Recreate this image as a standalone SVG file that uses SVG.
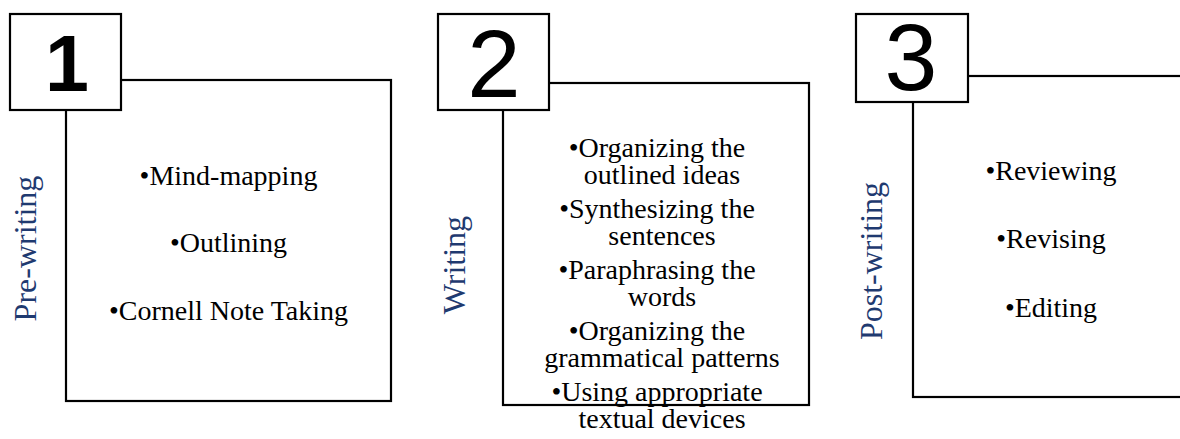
<svg xmlns="http://www.w3.org/2000/svg" width="1180" height="439" viewBox="0 0 1180 439">
<style>
.box{fill:#fff;stroke:#000;stroke-width:2.2}
.num{font-family:"Liberation Sans",Arial,sans-serif;fill:#000;text-anchor:middle}
.side{font-family:"Liberation Serif","Times New Roman",serif;font-size:32px;fill:#1f3a70;text-anchor:middle}
.item{font-family:"Liberation Serif","Times New Roman",serif;font-size:28px;fill:#000;text-anchor:middle}
</style>
<rect width="1180" height="439" fill="#fff"/>
<g id="stage1">
<rect class="box" x="66" y="80" width="325" height="321"/>
<rect class="box" x="10" y="14" width="111" height="96"/>
<text class="num" x="67" y="91" font-size="79" font-weight="bold">1</text>
<text class="side" transform="translate(36,248.5) rotate(-90)">Pre-writing</text>
<text class="item" x="228.5" y="185">•Mind-mapping</text>
<text class="item" x="228.5" y="252">•Outlining</text>
<text class="item" x="228.5" y="320">•Cornell Note Taking</text>
</g>
<g id="stage2">
<rect class="box" x="503" y="83" width="306" height="322"/>
<rect class="box" x="438" y="14" width="111" height="96"/>
<text class="num" x="494" y="97" font-size="96">2</text>
<text class="side" transform="translate(465,265) rotate(-90)">Writing</text>
<text class="item"><tspan x="657" y="157">•Organizing the</tspan><tspan x="662" y="184">outlined ideas</tspan></text>
<text class="item"><tspan x="657" y="218">•Synthesizing the</tspan><tspan x="662" y="245">sentences</tspan></text>
<text class="item"><tspan x="657" y="279">•Paraphrasing the</tspan><tspan x="662" y="306">words</tspan></text>
<text class="item"><tspan x="657" y="340">•Organizing the</tspan><tspan x="662" y="367">grammatical patterns</tspan></text>
<text class="item"><tspan x="657" y="401">•Using appropriate</tspan><tspan x="662" y="428">textual devices</tspan></text>
</g>
<g id="stage3">
<rect class="box" x="913" y="76" width="290" height="321"/>
<rect class="box" x="856" y="14" width="112" height="88"/>
<text class="num" x="911" y="90" font-size="95">3</text>
<text class="side" transform="translate(882,261) rotate(-90)">Post-writing</text>
<text class="item" x="1051" y="180">•Reviewing</text>
<text class="item" x="1051" y="248">•Revising</text>
<text class="item" x="1051" y="317">•Editing</text>
</g>
<g id="connectors"></g>
</svg>
